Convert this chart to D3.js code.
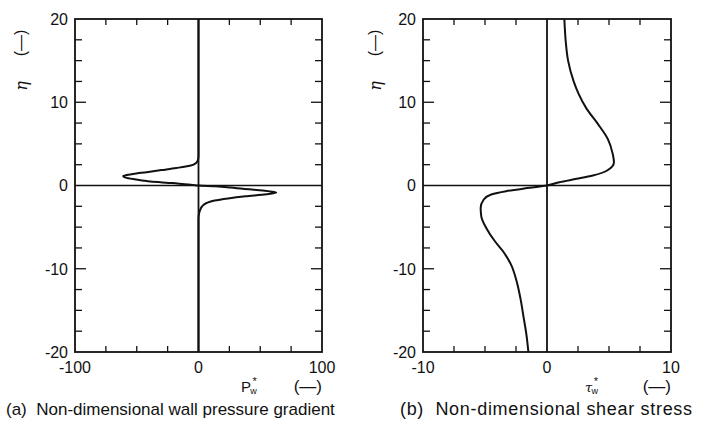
<!DOCTYPE html>
<html>
<head>
<meta charset="utf-8">
<script src="https://cdn.jsdelivr.net/npm/d3@7"></script>
<style>
  html, body { margin: 0; padding: 0; background: #fff; }
  svg { display: block; }
  text { font-family: "Liberation Sans", Arial, Helvetica, sans-serif; fill: #111; }
</style>
</head>
<body>
<svg id="chart" width="704" height="421"></svg>
<script>
// ---------------- data ----------------
// (a) wall pressure gradient P*w vs eta
const etaA = [20, 3.6, 3.1, 2.7, 2.37, 2.1, 1.85, 1.6, 1.38, 1.15, 0.95, 0.77, 0.6, 0.48, 0.29, 0.15, 0.07, 0,
              -0.1, -0.25, -0.4, -0.6, -0.84, -1.05, -1.3, -1.55, -1.8, -2.1, -2.5, -3.0, -3.5, -4.0, -20];
const pw   = [0, 0, -0.4, -1.9, -7, -18, -30, -42, -53, -61, -59, -53, -45, -39, -21, -11, -4.5, 0,
              14, 26, 36, 52, 63, 55, 38, 24, 13, 6.5, 3, 1.2, 0.3, 0, 0];
// (b) shear stress tau*w vs eta
const etaB = [20, 17.5, 15, 12.5, 11, 9.2, 7.4, 5.6, 3.8, 2.8, 1.8, 1.2, 0.8, 0.4, 0,
              -0.28, -0.68, -1.08, -1.68, -2.7, -3.7, -5.1, -6.7, -7.9, -9.5, -11.5, -13.5, -15.9, -17.9, -20];
const tw   = [1.4, 1.5, 1.7, 2.15, 2.55, 3.2, 4.1, 4.9, 5.3, 5.4, 4.85, 3.7, 2.4, 1.0, 0,
              -1.4, -3.3, -4.5, -5.1, -5.35, -5.3, -4.9, -4.2, -3.55, -2.9, -2.45, -2.15, -1.88, -1.66, -1.5];

const yTickLabels = [-20, -10, 0, 10, 20];
const xTickLabelsA = [-100, 0, 100];
const xTickLabelsB = [-10, 0, 10];
const captionA = "(a)  Non-dimensional wall pressure gradient";
const captionB = "(b)  Non-dimensional shear stress";

// ---------------- drawing ----------------
const svg = d3.select("#chart");
const plotTop = 19, plotBottom = 352;

const panels = [
  { x0: 75, x1: 322, domain: [-100, 100], step: 25, labels: xTickLabelsA, eta: etaA, val: pw,
    sym: "P", symFont: "\"Liberation Sans\", Arial, sans-serif", symItalic: false, symX: 241, symSize: 15,
    etaX: 22, caption: captionA, capX: 6, capSize: 17, capLen: null },
  { x0: 423, x1: 671, domain: [-10, 10], step: 2.5, labels: xTickLabelsB, eta: etaB, val: tw,
    sym: "\u03C4", symFont: "\"DejaVu Serif\", \"Liberation Serif\", serif", symItalic: true, symX: 585, symSize: 13,
    etaX: 376, caption: captionB, capX: 400, capSize: 18, capLen: 292 }
];

panels.forEach(p => {
  const x = d3.scaleLinear().domain(p.domain).range([p.x0, p.x1]);
  const y = d3.scaleLinear().domain([-20, 20]).range([plotBottom, plotTop]);
  const g = svg.append("g");

  // x ticks (top and bottom, inward)
  const xt = d3.range(p.domain[0] + p.step, p.domain[1], p.step).filter(v => Math.abs(v) > 1e-9);
  xt.forEach(v => {
    g.append("line").attr("x1", x(v)).attr("x2", x(v)).attr("y1", plotTop).attr("y2", plotTop + 6)
      .attr("stroke", "#111").attr("stroke-width", 1.3);
    g.append("line").attr("x1", x(v)).attr("x2", x(v)).attr("y1", plotBottom).attr("y2", plotBottom - 6)
      .attr("stroke", "#111").attr("stroke-width", 1.3);
  });
  // y ticks (left and right, inward)
  const yt = d3.range(-17.5, 20, 2.5).filter(v => Math.abs(v) > 1e-9);
  yt.forEach(v => {
    const major = Math.abs(Math.abs(v) - 10) < 1e-9;
    const len = major ? 11 : 7;
    g.append("line").attr("x1", p.x0).attr("x2", p.x0 + len).attr("y1", y(v)).attr("y2", y(v))
      .attr("stroke", "#111").attr("stroke-width", 1.3);
    g.append("line").attr("x1", p.x1).attr("x2", p.x1 - len).attr("y1", y(v)).attr("y2", y(v))
      .attr("stroke", "#111").attr("stroke-width", 1.3);
  });

  // zero axes
  g.append("line").attr("x1", x(0)).attr("x2", x(0)).attr("y1", plotTop).attr("y2", plotBottom)
    .attr("stroke", "#111").attr("stroke-width", 1.8);
  g.append("line").attr("x1", p.x0).attr("x2", p.x1).attr("y1", y(0)).attr("y2", y(0))
    .attr("stroke", "#111").attr("stroke-width", 1.5);

  // frame
  g.append("rect").attr("x", p.x0).attr("y", plotTop).attr("width", p.x1 - p.x0).attr("height", plotBottom - plotTop)
    .attr("fill", "none").attr("stroke", "#111").attr("stroke-width", 1.8);

  // curve
  const pts = p.eta.map((e, i) => [p.val[i], e]);
  const line = d3.line().x(d => x(d[0])).y(d => y(d[1])).curve(d3.curveMonotoneY);
  g.append("path").attr("d", line(pts)).attr("fill", "none").attr("stroke", "#111")
    .attr("stroke-width", 2).attr("stroke-linejoin", "round");

  // y tick labels
  g.selectAll(".yl").data(yTickLabels).enter().append("text")
    .attr("x", p.x0 - 7).attr("y", d => y(d)).attr("dy", "0.36em")
    .attr("text-anchor", "end").attr("font-size", 16).text(d => d);
  // x tick labels
  g.selectAll(".xl").data(p.labels).enter().append("text")
    .attr("x", d => x(d)).attr("y", 373)
    .attr("text-anchor", "middle").attr("font-size", 16).text(d => d);

  // y axis label (rotated)
  g.append("text").attr("transform", `translate(${p.etaX},86) rotate(-90)`)
    .attr("text-anchor", "middle").attr("dy", "0.3em")
    .attr("font-size", 16).attr("font-style", "italic")
    .style("font-family", "\"DejaVu Serif\", \"Liberation Serif\", serif").text("\u03B7");
  g.append("text").attr("transform", `translate(${p.etaX - 2},43) rotate(-90)`)
    .attr("text-anchor", "middle").attr("dy", "0.35em")
    .attr("font-size", 16).text("(\u2014)");

  // x axis label: symbol with superscript * and subscript w
  const t = g.append("text").attr("x", p.symX).attr("y", 392);
  const s = t.append("tspan").attr("font-size", p.symSize).style("font-family", p.symFont).text(p.sym);
  if (p.symItalic) s.attr("font-style", "italic");
  t.append("tspan").attr("font-size", 11).attr("dx", 1.5).attr("dy", -7).text("*");
  t.append("tspan").attr("font-size", 9).attr("dx", -6.5).attr("dy", 9).text("w");
  g.append("text").attr("x", p.x1).attr("y", 392).attr("text-anchor", "end")
    .attr("font-size", 17).text("(\u2014)");

  // caption
  const cap = g.append("text").attr("x", p.capX).attr("y", 415).attr("font-size", p.capSize)
    .style("white-space", "pre").attr("xml:space", "preserve").text(p.caption);
  if (p.capLen) cap.attr("textLength", p.capLen).attr("lengthAdjust", "spacing");
});
</script>
</body>
</html>
